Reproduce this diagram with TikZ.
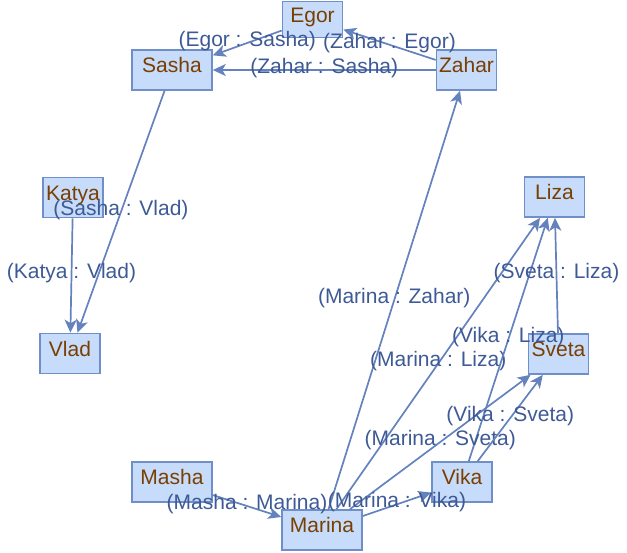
\documentclass[tikz,border=0pt]{standalone}
\usepackage{fontspec}
\setmainfont{Liberation Sans}
\usetikzlibrary{arrows.meta}
\definecolor{boxfill}{RGB}{198,220,250}
\definecolor{boxdraw}{RGB}{112,142,200}
\definecolor{nodetext}{RGB}{122,62,0}
\definecolor{edgecol}{RGB}{100,130,190}
\definecolor{labelcol}{RGB}{62,90,150}
\begin{document}
\begin{tikzpicture}[x=1pt,y=-1pt,
  vbox/.style={draw=boxdraw, fill=boxfill, line width=1.6pt, minimum width=60pt,
    minimum height=40pt, inner sep=1pt, text=nodetext,
    font=\fontsize{21}{24}\selectfont, text height=15pt, text depth=10pt},
  wbox/.style={vbox, minimum width=80pt},
  rel/.style={draw=edgecol, line width=1.7pt,
    -{Stealth[length=13pt,width=12pt,inset=3.5pt]}},
  rlab/.style={text=labelcol, font=\fontsize{21}{24}\selectfont,
    inner sep=0pt, midway, yshift=2pt}]
\useasboundingbox (0,0) rectangle (627,552);
\node[vbox, minimum height=36pt] (Egor) at (312.5,19.5) {Egor};
\node[wbox] (Sasha)  at (172,70)    {Sasha};
\node[vbox] (Zahar)  at (466.5,70)  {Zahar};
\node[vbox] (Katya)  at (73,197.5)  {Katya};
\node[vbox] (Liza)   at (554.5,197) {Liza};
\node[vbox] (Vlad)   at (70,353.5)  {Vlad};
\node[vbox] (Sveta)  at (558.5,354) {Sveta};
\node[wbox] (Masha)  at (172,482)   {Masha};
\node[vbox] (Vika)   at (462,482)   {Vika};
\node[wbox] (Marina) at (322,530)   {Marina};

\draw[rel] (Egor)   -- (Sasha) node[rlab] {(Egor : Sasha)};
\draw[rel] (Zahar)  -- (Egor)  node[rlab] {(Zahar : Egor)};
\draw[rel] (Zahar)  -- (Sasha) node[rlab] {(Zahar : Sasha)};
\draw[rel] (Sasha)  -- (Vlad)  node[rlab] {(Sasha : Vlad)};
\draw[rel] (Katya)  -- (Vlad)  node[rlab] {(Katya : Vlad)};
\draw[rel] (Marina) -- (Zahar) node[rlab] {(Marina : Zahar)};
\draw[rel] (Marina) -- (Liza)  node[rlab] {(Marina : Liza)};
\draw[rel] (Vika)   -- (Liza)  node[rlab] {(Vika : Liza)};
\draw[rel] (Sveta)  -- (Liza)  node[rlab] {(Sveta : Liza)};
\draw[rel] (Marina) -- (Sveta) node[rlab] {(Marina : Sveta)};
\draw[rel] (Vika)   -- (Sveta) node[rlab] {(Vika : Sveta)};
\draw[rel] (Masha)  -- (Marina) node[rlab] {(Masha : Marina)};
\draw[rel] (Marina) -- (Vika)  node[rlab] {(Marina : Vika)};
\end{tikzpicture}
\end{document}
